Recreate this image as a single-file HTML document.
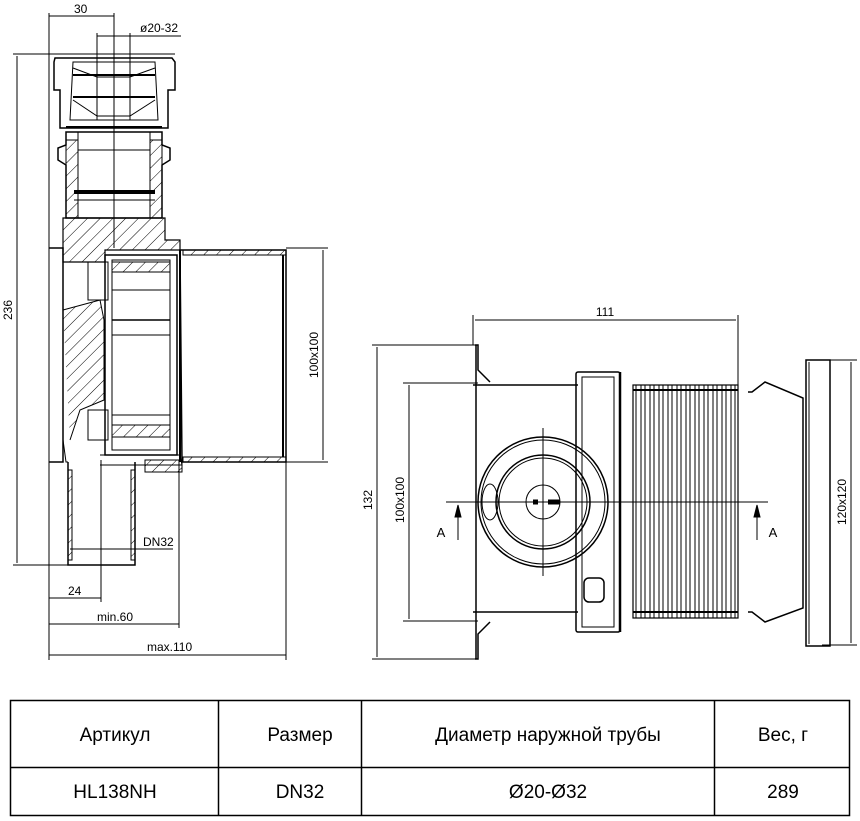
<!DOCTYPE html>
<html><head><meta charset="utf-8"><style>
html,body{margin:0;padding:0;background:#fff;}
svg{display:block}
text{font-family:"Liberation Sans",sans-serif;fill:#000}
</style></head><body>
<svg width="860" height="821" viewBox="0 0 860 821" xmlns="http://www.w3.org/2000/svg">
<defs>
<pattern id="h" width="9" height="9" patternUnits="userSpaceOnUse" patternTransform="rotate(45)">
<line x1="0" y1="0" x2="0" y2="9" stroke="#000" stroke-width="1"/></pattern>
</defs>
<g stroke="#000" fill="none" stroke-width="1">
<line x1="49" y1="13" x2="49" y2="660"/>
<line x1="114" y1="13" x2="114" y2="248"/>
<line x1="49" y1="16" x2="114" y2="16"/>
<line x1="97" y1="33" x2="97" y2="120"/>
<line x1="130" y1="33" x2="130" y2="120"/>
<line x1="97" y1="36" x2="181" y2="36"/>
<line x1="13" y1="54" x2="175" y2="54"/>
<line x1="17" y1="56" x2="17" y2="563"/>
<line x1="13" y1="565" x2="135" y2="565"/>
<path d="M55 58 L172 58 L175 62 L175 90 L168 90 L168 128 L60 128 L60 90 L54 90 L54 62 Z" stroke-width="1.5"/>
<path d="M73 62 L155 62 L158 120 L70 120 Z"/>
<line x1="73" y1="75" x2="155" y2="75" stroke-width="2"/>
<line x1="73" y1="97" x2="155" y2="97" stroke-width="2"/>
<path d="M73 68 L97 77 L130 77 L155 68"/>
<path d="M73 100 L97 116 L130 116 L155 100"/>
<line x1="66" y1="127" x2="162" y2="127" stroke-width="2"/>
<path d="M66 132 L66 145 L58 148 L58 160 L66 165 L66 218 L162 218 L162 165 L170 160 L170 148 L162 145 L162 132 Z" stroke-width="1.5"/>
<rect x="66" y="140" width="12" height="78" fill="url(#h)"/>
<rect x="150" y="140" width="12" height="78" fill="url(#h)"/>
<rect x="78" y="132" width="72" height="18"/>
<line x1="74" y1="192" x2="155" y2="192" stroke-width="4"/>
<line x1="74" y1="200" x2="155" y2="200"/>
<path d="M63 218 L165 218 L165 240 L180 240 L180 250 L105 250 L105 262 L63 262 Z" fill="url(#h)" stroke-width="1.2"/>
<path d="M49 248 L63 248 L63 462 L49 462" stroke-width="1.5"/>
<path d="M63 262 L63 310 L63 440 L66 462 L68 462" />
<path d="M63 310 L100 300 L104 320 L104 400 L80 410 L70 440" fill="url(#h)"/>
<path d="M88 262 L108 262 L108 300 L88 300 Z"/>
<path d="M88 410 L108 410 L108 440 L88 440 Z"/>
<rect x="105" y="255" width="72" height="200" stroke-width="1.5"/>
<rect x="112" y="260" width="58" height="190"/>
<line x1="112" y1="290" x2="170" y2="290"/>
<line x1="112" y1="320" x2="170" y2="320" stroke-width="1.5"/>
<line x1="112" y1="335" x2="170" y2="335"/>
<line x1="112" y1="415" x2="170" y2="415"/>
<rect x="112" y="262" width="58" height="10" fill="url(#h)"/>
<rect x="112" y="425" width="58" height="12" fill="url(#h)"/>
<path d="M100 455 L180 455 L182 465 L100 465" />
<rect x="145" y="460" width="37" height="12" fill="url(#h)"/>
<path d="M180 250 L286 250 L286 462 L182 462 Z" stroke-width="1.5"/>
<rect x="183" y="250" width="103" height="5" fill="url(#h)"/>
<rect x="183" y="457" width="103" height="5" fill="url(#h)"/>
<line x1="283" y1="255" x2="283" y2="457" stroke-width="2"/>
<line x1="180" y1="250" x2="180" y2="462" stroke-width="2"/>
<line x1="286" y1="248" x2="328" y2="248"/>
<line x1="286" y1="462" x2="328" y2="462"/>
<line x1="323" y1="250" x2="323" y2="460"/>
<path d="M68 462 L68 565 L135 565 L135 462" stroke-width="1.5"/>
<rect x="68" y="470" width="4" height="90" fill="url(#h)"/>
<rect x="131" y="470" width="4" height="90" fill="url(#h)"/>
<line x1="70" y1="549" x2="173" y2="549"/>
<line x1="101" y1="460" x2="101" y2="602"/>
<line x1="179" y1="460" x2="179" y2="628"/>
<line x1="286" y1="462" x2="286" y2="660"/>
<line x1="49" y1="598" x2="101" y2="598"/>
<line x1="49" y1="624" x2="179" y2="624"/>
<line x1="49" y1="655" x2="286" y2="655"/>

<line x1="473" y1="315" x2="473" y2="345"/>
<line x1="738" y1="315" x2="738" y2="390"/>
<line x1="475" y1="320" x2="736" y2="320"/>
<line x1="372" y1="345" x2="478" y2="345"/>
<line x1="372" y1="659" x2="478" y2="659"/>
<line x1="377" y1="347" x2="377" y2="657"/>
<line x1="403" y1="383" x2="478" y2="383"/>
<line x1="403" y1="621" x2="478" y2="621"/>
<line x1="409" y1="385" x2="409" y2="619"/>
<path d="M475 345 L478 345 L478 370 L490 382 M475 659 L478 659 L478 634 L490 622" stroke-width="1.5"/>
<line x1="476" y1="345" x2="476" y2="659" stroke-width="1.5"/>
<line x1="473" y1="385" x2="578" y2="385" stroke-width="1.5"/>
<line x1="473" y1="612" x2="578" y2="612" stroke-width="1.5"/>
<circle cx="543" cy="502" r="65" stroke-width="1.5"/>
<circle cx="543" cy="502" r="62"/>
<circle cx="543" cy="502" r="47" stroke-width="1.5"/>
<circle cx="543" cy="502" r="44"/>
<circle cx="543" cy="502" r="17"/>
<ellipse cx="490" cy="502" rx="8" ry="18"/>
<line x1="533" y1="502" x2="538" y2="502" stroke-width="5"/>
<line x1="548" y1="502" x2="560" y2="502" stroke-width="5"/>
<line x1="543" y1="428" x2="543" y2="576"/>
<rect x="576" y="372" width="44" height="260" rx="2" stroke-width="1.5"/>
<rect x="582" y="377" width="32" height="250"/>
<line x1="620" y1="372" x2="620" y2="632" stroke-width="2.5"/>
<rect x="584" y="578" width="20" height="24" rx="5" stroke-width="1.5"/>
<rect x="633" y="385" width="105" height="233" stroke-width="1.2"/>
<g stroke-width="1">
<line x1="636" y1="385" x2="636" y2="618"/><line x1="641" y1="385" x2="641" y2="618"/>
<line x1="645" y1="385" x2="645" y2="618"/><line x1="650" y1="385" x2="650" y2="618"/>
<line x1="654" y1="385" x2="654" y2="618"/><line x1="659" y1="385" x2="659" y2="618"/>
<line x1="663" y1="385" x2="663" y2="618"/><line x1="668" y1="385" x2="668" y2="618"/>
<line x1="672" y1="385" x2="672" y2="618"/><line x1="677" y1="385" x2="677" y2="618"/>
<line x1="681" y1="385" x2="681" y2="618"/><line x1="686" y1="385" x2="686" y2="618"/>
<line x1="690" y1="385" x2="690" y2="618"/><line x1="695" y1="385" x2="695" y2="618"/>
<line x1="699" y1="385" x2="699" y2="618"/><line x1="704" y1="385" x2="704" y2="618"/>
<line x1="708" y1="385" x2="708" y2="618"/><line x1="713" y1="385" x2="713" y2="618"/>
<line x1="717" y1="385" x2="717" y2="618"/><line x1="722" y1="385" x2="722" y2="618"/>
<line x1="726" y1="385" x2="726" y2="618"/><line x1="731" y1="385" x2="731" y2="618"/>
<line x1="735" y1="385" x2="735" y2="618"/>
</g>
<line x1="633" y1="390" x2="738" y2="390" stroke-width="2"/>
<line x1="633" y1="612" x2="738" y2="612" stroke-width="2"/>
<path d="M748 392 L752 392 L765 382 L803 398 L803 608 L765 622 L752 612 L748 612" stroke-width="1.5"/>
<rect x="806" y="360" width="24" height="286" stroke-width="1.5"/>
<line x1="809" y1="362" x2="809" y2="644"/>
<line x1="822" y1="360" x2="857" y2="360"/>
<line x1="822" y1="645" x2="857" y2="645"/>
<line x1="851" y1="362" x2="851" y2="643"/>
<line x1="446" y1="502" x2="768" y2="502"/>
<line x1="458" y1="505" x2="458" y2="540"/>
<path d="M455 517 L458 505 L461 517 Z" fill="#000"/>
<line x1="757" y1="505" x2="757" y2="540"/>
<path d="M754 517 L757 505 L760 517 Z" fill="#000"/>

<rect x="10.5" y="700.5" width="839" height="115" stroke-width="1.5"/>
<line x1="10" y1="767.5" x2="850" y2="767.5" stroke-width="1.5"/>
<line x1="218.5" y1="700" x2="218.5" y2="816" stroke-width="1.5"/>
<line x1="361.5" y1="700" x2="361.5" y2="816" stroke-width="1.5"/>
<line x1="714.5" y1="700" x2="714.5" y2="816" stroke-width="1.5"/>
</g>

<g font-size="12">
<text x="74" y="13">30</text>
<text x="140" y="32">ø20-32</text>
<text x="12" y="310" transform="rotate(-90 12 310)" text-anchor="middle">236</text>
<text x="318" y="355" transform="rotate(-90 318 355)" text-anchor="middle">100x100</text>
<text x="143" y="546">DN32</text>
<text x="68" y="595">24</text>
<text x="97" y="621">min.60</text>
<text x="147" y="651">max.110</text>
<text x="605" y="316" text-anchor="middle">111</text>
<text x="372" y="500" transform="rotate(-90 372 500)" text-anchor="middle">132</text>
<text x="404" y="500" transform="rotate(-90 404 500)" text-anchor="middle">100x100</text>
<text x="846" y="502" transform="rotate(-90 846 502)" text-anchor="middle">120x120</text>
<text x="441" y="537" text-anchor="middle" font-size="13">A</text>
<text x="773" y="537" text-anchor="middle" font-size="13">A</text>
</g>
<g font-size="19" text-anchor="middle">
<text x="115" y="741">Артикул</text>
<text x="300" y="741">Размер</text>
<text x="548" y="741">Диаметр наружной трубы</text>
<text x="783" y="741">Вес, г</text>
<text x="115" y="798">HL138NH</text>
<text x="300" y="798">DN32</text>
<text x="548" y="798">Ø20-Ø32</text>
<text x="783" y="798">289</text>
</g>
</svg>
</body></html>
